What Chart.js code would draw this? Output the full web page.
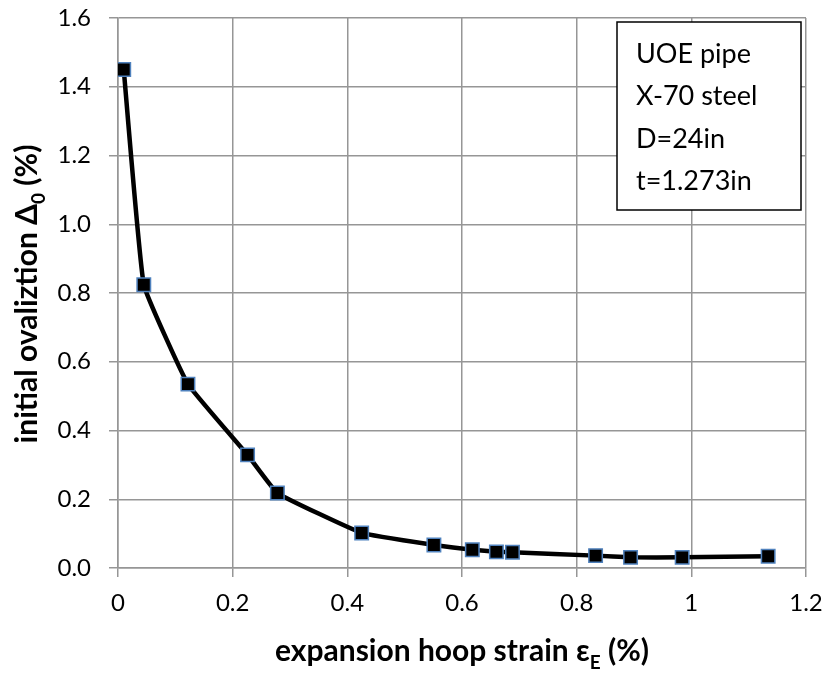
<!DOCTYPE html>
<html>
<head>
<meta charset="utf-8">
<script src="https://cdn.jsdelivr.net/npm/chart.js@4.4.0/dist/chart.umd.min.js"></script>
<style>
  html, body { margin: 0; padding: 0; background: #fff; }
  #wrap { width: 827px; height: 675px; }
</style>
</head>
<body>
<div id="wrap"><canvas id="chart" width="827" height="675"></canvas></div>
<script>
// values
const strain = [0.01, 0.045, 0.122, 0.226, 0.278, 0.425, 0.551, 0.618, 0.660, 0.688, 0.833, 0.894, 0.984, 1.134];
const ovality = [1.45, 0.824, 0.535, 0.329, 0.218, 0.102, 0.067, 0.053, 0.047, 0.046, 0.036, 0.031, 0.031, 0.034];
const noteLines = ['UOE pipe', 'X-70 steel', 'D=24in', 't=1.273in'];
const xTitle = { main: 'expansion hoop strain ε', sub: 'E', tail: ' (%)' };
const yTitle = { main: 'initial ovaliztion Δ', sub: '0', tail: ' (%)' };

const FONT = 'Lato, "Open Sans", sans-serif';
const gridColor = '#969696';

// draws a title with a subscript piece, centred on (0,0) of the current transform
function drawSubTitle(ctx, t, size) {
    const big = `bold ${size}px ${FONT}`;
    const small = `bold ${Math.round(size * 0.62)}px ${FONT}`;
    ctx.font = big;
    const w1 = ctx.measureText(t.main).width;
    const w3 = ctx.measureText(t.tail).width;
    ctx.font = small;
    const w2 = ctx.measureText(t.sub).width;
    let x = -(w1 + w2 + w3) / 2;
    ctx.textBaseline = 'alphabetic';
    ctx.textAlign = 'left';
    ctx.fillStyle = '#000';
    ctx.font = big;
    ctx.fillText(t.main, x, 0);
    x += w1;
    ctx.font = small;
    ctx.fillText(t.sub, x, size * 0.28);
    x += w2;
    ctx.font = big;
    ctx.fillText(t.tail, x, 0);
}

const extras = {
    id: 'extras',
    afterDraw(chart) {
        const ctx = chart.ctx;
        const xs = chart.scales.x, ys = chart.scales.y;

        // axis titles
        ctx.save();
        ctx.translate((xs.left + xs.right) / 2, 661);
        drawSubTitle(ctx, xTitle, 30);
        ctx.restore();

        ctx.save();
        ctx.translate(37, 294);
        ctx.rotate(-Math.PI / 2);
        drawSubTitle(ctx, yTitle, 30);
        ctx.restore();

        // note box in the upper right corner
        const bx = 617, by = 22, bw = 184, bh = 188;
        ctx.save();
        ctx.fillStyle = '#fff';
        ctx.fillRect(bx, by, bw, bh);
        ctx.strokeStyle = '#000';
        ctx.lineWidth = 1.5;
        ctx.strokeRect(bx, by, bw, bh);
        ctx.fillStyle = '#000';
        ctx.font = `27px ${FONT}`;
        ctx.textAlign = 'left';
        ctx.textBaseline = 'alphabetic';
        noteLines.forEach((line, i) => {
            ctx.fillText(line, bx + 19, 63 + i * 42.3);
        });
        ctx.restore();
    }
};

new Chart(document.getElementById('chart'), {
    type: 'scatter',
    data: {
        datasets: [{
            data: strain.map((x, i) => ({ x: x, y: ovality[i] })),
            showLine: true,
            borderColor: '#000',
            borderWidth: 4.5,
            tension: 0.1,
            pointStyle: 'rect',
            pointRadius: 9.5,
            pointHoverRadius: 9.5,
            pointBackgroundColor: '#000',
            pointBorderColor: '#4f81bd',
            pointBorderWidth: 1.5
        }]
    },
    options: {
        responsive: false,
        animation: false,
        layout: { padding: { left: 0, top: 18, right: 21, bottom: 0 } },
        plugins: { legend: { display: false }, tooltip: { enabled: false } },
        scales: {
            x: {
                type: 'linear',
                min: 0,
                max: 1.2,
                ticks: {
                    stepSize: 0.2,
                    color: '#000',
                    padding: 12,
                    font: { family: FONT, size: 24 },
                    callback: v => String(parseFloat(v.toFixed(1)))
                },
                grid: { color: gridColor, lineWidth: 1.5, tickLength: 9, drawTicks: true },
                border: { color: gridColor, width: 1.5 },
                afterFit(scale) {
                    scale.height = 107;
                    scale.paddingLeft = 0;
                    scale.paddingRight = 0;
                }
            },
            y: {
                min: 0,
                max: 1.6,
                ticks: {
                    stepSize: 0.2,
                    color: '#000',
                    padding: 18,
                    font: { family: FONT, size: 24 },
                    callback: v => v.toFixed(1)
                },
                grid: { color: gridColor, lineWidth: 1.5, tickLength: 9, drawTicks: true },
                border: { color: gridColor, width: 1.5 },
                afterFit(scale) {
                    scale.width = 118;
                    scale.paddingTop = 0;
                    scale.paddingBottom = 0;
                }
            }
        }
    },
    plugins: [extras]
});
</script>
</body>
</html>
